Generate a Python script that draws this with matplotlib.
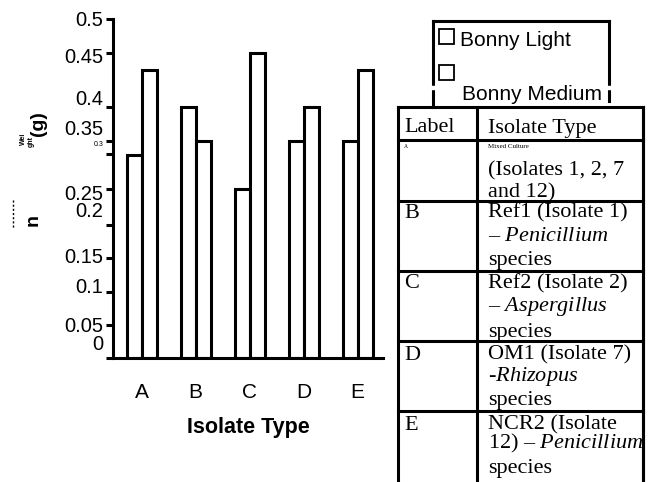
# bar chart of weights with side table of isolate types
import numpy as np
import matplotlib.pyplot as plt
from matplotlib.lines import Line2D
from matplotlib.patches import Rectangle

plt.rcParams['font.family'] = ['Liberation Sans', 'DejaVu Sans']
plt.rcParams['mathtext.fontset'] = 'custom'
plt.rcParams['mathtext.rm'] = 'Liberation Serif'
plt.rcParams['mathtext.it'] = 'Liberation Serif:italic'

# data
isolates = ['A', 'B', 'C', 'D', 'E']
series_names = ['Bonny Light', 'Bonny Medium']
bonny_light = [0.30, 0.37, 0.25, 0.32, 0.32]
bonny_medium = [0.425, 0.32, 0.45, 0.37, 0.425]

# y ticks as they sit on the original (uneven)
ytick_vals = [0.5, 0.451, 0.371, 0.32, 0.302, 0.249, 0.196, 0.1475, 0.098, 0.049, 0]
ytick_text = ['0.5', '0.45', '0.4', '0.35', '0.3', '0.25', '0.2', '0.15', '0.1', '0.05', '0']
ytick_text_y = [0.498, 0.443, 0.381, 0.3375, 0.315, 0.242, 0.217, 0.148, 0.104, 0.047, 0.02]
ytick_text_size = [14.5, 14.5, 14.5, 14.5, 5, 14.5, 14.5, 14.5, 14.5, 14.5, 14.5]

table_header = ['Label', 'Isolate Type']
table_labels = ['A', 'B', 'C', 'D', 'E']
table_desc = [
    ['Mixed Culture', '(Isolates 1, 2, 7', 'and 12)'],
    ['Ref1 (Isolate 1)', '– $\\mathit{Penicillium}$', 'species'],
    ['Ref2 (Isolate 2)', '– $\\mathit{Aspergillus}$', 'species'],
    ['OM1 (Isolate 7)', '-$\\mathit{Rhizopus}$', 'species'],
    ['NCR2 (Isolate', '12) – $\\mathit{Penicillium}$', 'species'],
]

W, H = 650, 482
fig = plt.figure(figsize=(W / 100, H / 100), dpi=100)


def fx(x):
    return x / W


def fy(y):
    return 1 - y / H


ax = fig.add_axes([fx(113), fy(358.3), (383 - 113) / W, (358.3 - 19.3) / H])

x = np.arange(len(isolates))
bw = 0.28
ax.bar(x - bw / 2, bonny_light, bw, color='white', edgecolor='black', linewidth=2.2)
ax.bar(x + bw / 2, bonny_medium, bw, color='white', edgecolor='black', linewidth=2.2)

ax.set_xlim(-0.531, 4.469)
ax.set_ylim(0, 0.5)
for s in ['top', 'right']:
    ax.spines[s].set_visible(False)
for s in ['left', 'bottom']:
    ax.spines[s].set_linewidth(2.2)

ax.set_xticks(x, isolates, fontsize=15)
ax.tick_params(axis='x', length=0, pad=18)
ax.set_yticks(ytick_vals, [''] * len(ytick_vals))
ax.tick_params(axis='y', length=5, width=2.2, direction='out')
for lab, yv, sz in zip(ytick_text, ytick_text_y, ytick_text_size):
    ax.text(-0.035, yv, lab, transform=ax.get_yaxis_transform(), ha='right',
            va='center', fontsize=sz)

ax.set_xlabel('Isolate Type', fontsize=15.5, fontweight='bold')
ax.xaxis.set_label_coords(0.5, -0.174)

# broken y label pieces
fig.text(fx(39), fy(124), '(g)', rotation=90, fontsize=14, fontweight='bold',
         ha='center', va='center')
fig.text(fx(23), fy(139), 'Wei', rotation=90, fontsize=5, fontweight='bold',
         ha='center', va='center')
fig.text(fx(31), fy(141), 'ght', rotation=90, fontsize=5, fontweight='bold',
         ha='center', va='center')
fig.text(fx(33), fy(220), 'n', rotation=90, fontsize=14, fontweight='bold',
         ha='center', va='center')
fig.add_artist(Line2D([fx(13), fx(13)], [fy(200), fy(229)], color='black',
                      lw=1, ls=(0, (1.5, 1.5))))

# legend box
lk = dict(color='black', lw=2.2, solid_capstyle='projecting')
fig.add_artist(Line2D([fx(433), fx(609)], [fy(20.7), fy(20.7)], **lk))
fig.add_artist(Line2D([fx(433), fx(433)], [fy(20.7), fy(107)], **lk))
fig.add_artist(Line2D([fx(609), fx(609)], [fy(20.7), fy(101)], **lk))
for sy in [29, 65]:
    fig.add_artist(Rectangle((fx(438.5), fy(sy + 14.5)), 15 / W, 14.5 / H,
                             fill=False, edgecolor='black', lw=1.3,
                             transform=fig.transFigure))
fig.text(fx(460), fy(40), series_names[0], fontsize=15, ha='left', va='center')
fig.text(fx(462), fy(100.5), series_names[1], fontsize=15, ha='left', va='baseline')
# white band that trims the top of the second entry, as in the original
fig.add_artist(Line2D([fx(428), fx(614)], [fy(88), fy(88)], color='white', lw=3.2))

# table
row_lines = [107, 140, 201, 271, 341, 411]
col_lines = [398, 477, 643]
for ry in row_lines:
    fig.add_artist(Line2D([fx(398), fx(643)], [fy(ry), fy(ry)], **lk))
for cx in col_lines:
    fig.add_artist(Line2D([fx(cx), fx(cx)], [fy(107), fy(485)], **lk))

serif = 'Liberation Serif'
fig.text(fx(404), fy(128), table_header[0], family=serif, fontsize=16, va='center')
fig.text(fx(488), fy(128), table_header[1], family=serif, fontsize=16, va='center')

line_y = [
    [146, 171, 193],
    [213, 236, 260],
    [284, 307, 332],
    [355, 377, 400],
    [425, 443, 468],
]
for i, (lab, desc) in enumerate(zip(table_labels, table_desc)):
    small = i == 0
    fig.text(fx(404), fy(line_y[i][0]), lab, family=serif,
             fontsize=4 if small else 16, va='center')
    for j, (t, ly) in enumerate(zip(desc, line_y[i])):
        fig.text(fx(488), fy(ly), t, family=serif,
                 fontsize=5 if (small and j == 0) else 16, va='center')

# table right edge drawn last so it trims the long row E text
fig.add_artist(Line2D([fx(643), fx(643)], [fy(107), fy(485)], **lk))
fig.add_artist(Rectangle((fx(644.5), 0), (W - 644.5) / W, 1, color='white',
                         transform=fig.transFigure))

fig.savefig('out.png', dpi=100)
